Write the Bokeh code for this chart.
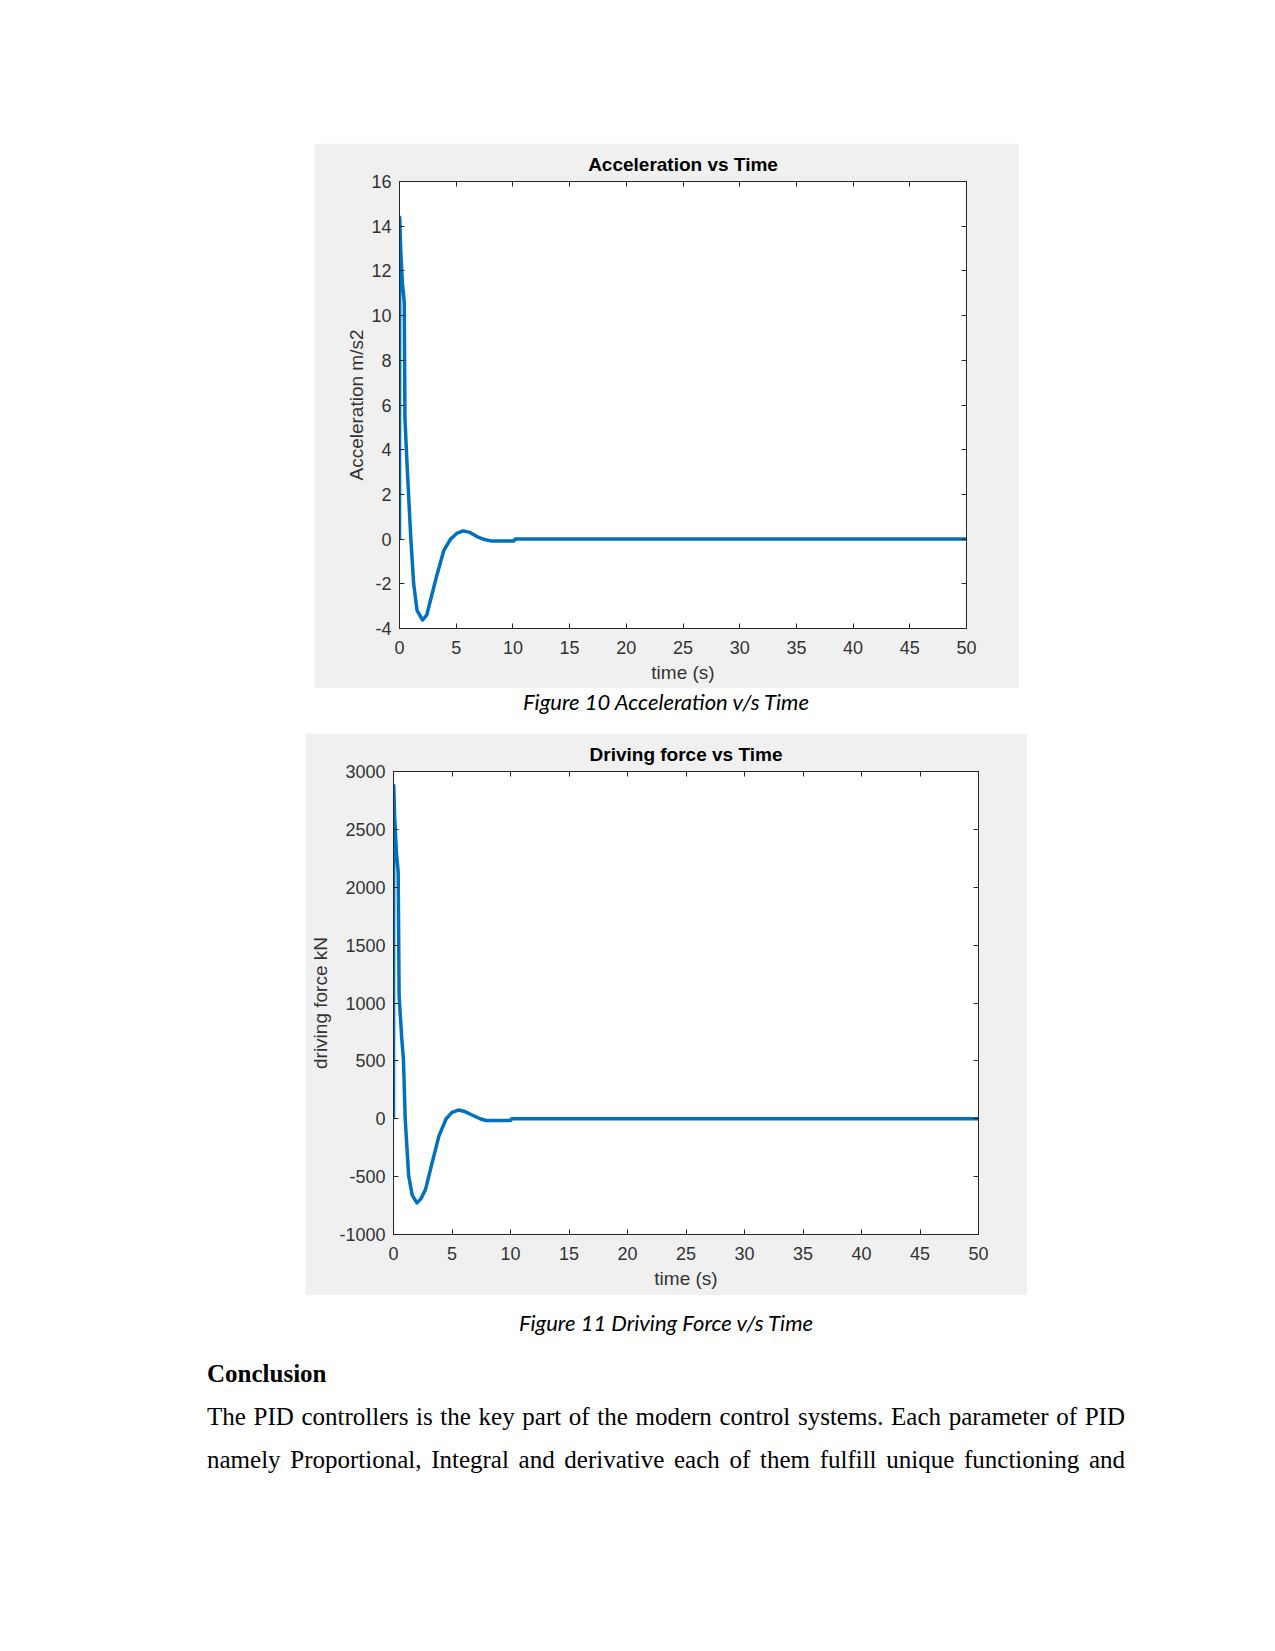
from bokeh.plotting import figure
from bokeh.models import Range1d, LinearAxis, FixedTicker, CustomJSTickFormatter, Div, Spacer
from bokeh.layouts import column, row
from bokeh.embed import file_html
from bokeh.resources import INLINE

# ---------------- data ----------------
t_acc = [0, 0.02, 0.1, 0.25, 0.42, 0.48, 0.65, 0.8, 1.0, 1.25, 1.55, 2.04, 2.4, 2.72,
         3.32, 3.9, 4.5, 5.09, 5.62, 6.2, 6.87, 7.5, 8.05, 10.1, 10.2, 50]
acc = [0, 14.4, 13.0, 11.5, 10.6, 5.4, 3.5, 2.0, 0.0, -2.0, -3.2, -3.62, -3.4, -2.76,
       -1.57, -0.52, 0.0, 0.27, 0.37, 0.3, 0.1, -0.02, -0.08, -0.08, 0.0, 0.0]

t_force = [0, 0.02, 0.1, 0.25, 0.4, 0.48, 0.7, 0.85, 1.0, 1.3, 1.6, 2.0, 2.35, 2.73,
           3.3, 3.88, 4.5, 5.0, 5.55, 6.1, 6.76, 7.4, 7.9, 10.0, 10.1, 50]
force = [0, 2880, 2600, 2300, 2130, 1062, 700, 513, 0, -497, -660, -727, -690, -612,
         -381, -150, 0, 55, 75, 62, 30, 0, -15, -15, 0, 0]

x_ticks = [0, 5, 10, 15, 20, 25, 30, 35, 40, 45, 50]
acc_ticks = [-4, -2, 0, 2, 4, 6, 8, 10, 12, 14, 16]
force_ticks = [-1000, -500, 0, 500, 1000, 1500, 2000, 2500, 3000]

acc_title = "Acceleration vs Time"
acc_ylabel = "Acceleration m/s2"
force_title = "Driving force vs Time"
force_ylabel = "driving force kN"
xlabel = "time (s)"
caption1 = "Figure 10 Acceleration v/s Time"
caption2 = "Figure 11 Driving Force v/s Time"
heading = "Conclusion"
body_lines = [
    "The PID controllers is the key part of the modern control systems. Each parameter of PID",
    "namely Proportional, Integral and derivative each of them fulfill unique functioning and",
]

AX = "#262626"
LBL = "#333333"
FONT = "Liberation Sans"
BLUE = "#0072BD"
GRAY = "#F0F0F0"


def style_axis(ax, ticks, show_labels):
    ax.ticker = FixedTicker(ticks=ticks)
    ax.axis_line_color = AX
    ax.major_tick_line_color = AX
    ax.major_tick_in = 5
    ax.major_tick_out = 0
    ax.minor_tick_line_color = None
    ax.major_label_text_font = FONT
    ax.major_label_text_font_size = "18px"
    ax.major_label_text_color = LBL
    if show_labels:
        ax.formatter = CustomJSTickFormatter(code="return String(tick)")
    else:
        ax.formatter = CustomJSTickFormatter(code="return ''")
        ax.major_label_standoff = 0
        ax.major_label_text_font_size = "0px"


def make_fig(t, y, yr, yticks, title, ylabel, w, h, bl, br, bt, bb, ylab_standoff):
    p = figure(width=w, height=h, output_backend="svg", toolbar_location=None,
               x_range=Range1d(0, 50), y_range=Range1d(*yr),
               min_border_left=bl, min_border_right=br, min_border_top=bt,
               min_border_bottom=bb, background_fill_color="white",
               border_fill_color=GRAY, outline_line_color=AX, title=title)
    p.title.text_font = FONT
    p.title.text_font_size = "19px"
    p.title.text_font_style = "bold"
    p.title.text_color = "#000000"
    p.title.align = "center"
    p.title.standoff = 14
    p.xgrid.visible = False
    p.ygrid.visible = False

    xa = p.xaxis[0]
    style_axis(xa, x_ticks, True)
    xa.axis_label = xlabel
    xa.major_label_standoff = 12
    xa.axis_label_standoff = 5
    ya = p.yaxis[0]
    style_axis(ya, yticks, True)
    ya.axis_label = ylabel
    ya.major_label_standoff = 8
    ya.axis_label_standoff = ylab_standoff
    for a in (xa, ya):
        a.axis_label_text_font = FONT
        a.axis_label_text_font_size = "19px"
        a.axis_label_text_font_style = "normal"
        a.axis_label_text_color = LBL

    top = LinearAxis()
    style_axis(top, x_ticks, False)
    p.add_layout(top, "above")
    right = LinearAxis()
    style_axis(right, yticks, False)
    p.add_layout(right, "right")

    p.line(t, y, line_width=3.5, line_color=BLUE, line_join="round")
    return p


p1 = make_fig(t_acc, acc, (-4, 16), acc_ticks, acc_title, acc_ylabel,
              705, 545, 85, 53, 38, 60, 1)
p2 = make_fig(t_force, force, (-1000, 3000), force_ticks, force_title, force_ylabel,
              722, 562, 88, 49, 38, 61, 5)

cap_style = ("font-family:Lato; font-style:italic; font-size:22px; color:#000;"
             "text-align:center; line-height:28px; margin:0; white-space:nowrap;")

cap1 = Div(text=f'<div style="position:absolute; left:207px; top:0px; width:918px; {cap_style}">{caption1}</div>',
           width=1275, height=45, margin=0, styles={"position": "relative"})

body_html = (
    f'<div style="position:absolute; left:207px; top:14px; width:918px; {cap_style}">{caption2}</div>'
    f'<div style="position:absolute; left:207px; top:57px; font-family:\'Liberation Serif\'; '
    f'font-weight:bold; font-size:25px; line-height:43px; color:#000;">{heading}</div>'
)
for i, line in enumerate(body_lines):
    body_html += (
        f'<div style="position:absolute; left:207px; top:{100 + 43 * i}px; width:918px; '
        f'font-family:\'Liberation Serif\'; font-size:25px; line-height:43px; color:#000; '
        f'text-align:justify; text-align-last:justify; white-space:nowrap;">{line}</div>'
    )
body = Div(text=body_html, width=1275, height=356, margin=0, styles={"position": "relative"})

layout = column(
    Spacer(width=1275, height=143, margin=0),
    row(Spacer(width=314, height=545, margin=0), p1, spacing=0),
    cap1,
    row(Spacer(width=305, height=562, margin=0), p2, spacing=0),
    body,
    spacing=0,
)

html = file_html(layout, INLINE, title="PID results")
html = html.replace("<head>", "<head><style>html,body{margin:0;padding:0;background:#fff;}</style>", 1)
open("out.html", "w").write(html)
